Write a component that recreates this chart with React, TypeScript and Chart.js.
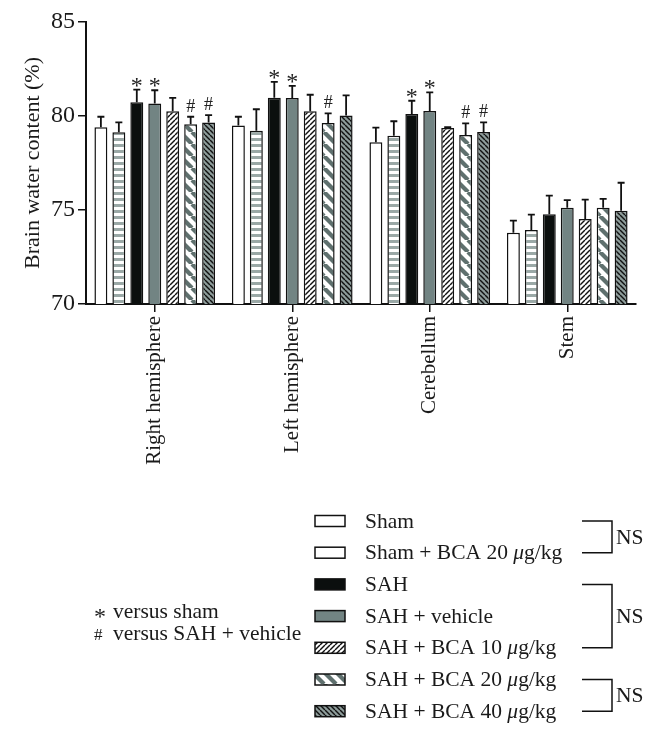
import React, { useEffect, useRef } from 'react';
import { Chart, registerables } from 'chart.js';
Chart.register(...registerables);

const categories = ['Right hemisphere', 'Left hemisphere', 'Cerebellum', 'Stem'];
const seriesNames = [
  'Sham',
  'Sham + BCA 20 μg/kg',
  'SAH',
  'SAH + vehicle',
  'SAH + BCA 10 μg/kg',
  'SAH + BCA 20 μg/kg',
  'SAH + BCA 40 μg/kg',
];

const sham = [79.4, 79.5, 78.6, 73.79];
const shamErr = [0.56, 0.46, 0.78, 0.64];
const shamBca20 = [79.13, 79.22, 78.95, 73.94];
const shamBca20Err = [0.53, 1.14, 0.77, 0.81];
const sah = [80.73, 80.97, 80.11, 74.77];
const sahErr = [0.67, 0.84, 0.7, 0.99];
const sahVehicle = [80.67, 80.96, 80.27, 75.12];
const sahVehicleErr = [0.7, 0.64, 0.99, 0.41];
const sahBca10 = [80.25, 80.25, 79.36, 74.52];
const sahBca10Err = [0.71, 0.88, 0.05, 1.03];
const sahBca20 = [79.56, 79.63, 78.99, 75.12];
const sahBca20Err = [0.4, 0.51, 0.62, 0.47];
const sahBca40 = [79.65, 80.02, 79.15, 74.96];
const sahBca40Err = [0.4, 1.08, 0.51, 1.49];

const shamMarks = ['', '', '', ''];
const shamBca20Marks = ['', '', '', ''];
const sahMarks = ['*', '*', '*', ''];
const sahVehicleMarks = ['*', '*', '*', ''];
const sahBca10Marks = ['', '', '', ''];
const sahBca20Marks = ['#', '#', '#', ''];
const sahBca40Marks = ['#', '', '#', ''];

const seriesValues = [sham, shamBca20, sah, sahVehicle, sahBca10, sahBca20, sahBca40];
const seriesErrors = [shamErr, shamBca20Err, sahErr, sahVehicleErr, sahBca10Err, sahBca20Err, sahBca40Err];
const seriesMarks = [shamMarks, shamBca20Marks, sahMarks, sahVehicleMarks, sahBca10Marks, sahBca20Marks, sahBca40Marks];

// NS groups: [first series index, last series index]
const nsGroups = [[0, 1], [2, 4], [5, 6]];
const footnotes = [['*', 'versus sham'], ['#', 'versus SAH + vehicle']];

const yTicks = [70, 75, 80, 85];

// styles
const seriesFills = ['white', 'hstripe', 'black', 'gray', 'fwdBlack', 'backGray', 'backDark'];
const legendFills = ['white', 'white', 'black', 'gray', 'fwdBlack', 'backGray', 'backDark'];

const SERIF = '"Liberation Serif", "DejaVu Serif", serif';

function makeFill(kind: string): CanvasPattern | string {
  if (kind === 'white') return '#ffffff';
  if (kind === 'black') return '#0b0f0e';
  if (kind === 'gray') return '#728483';
  const c = document.createElement('canvas');
  const ctx = c.getContext('2d')!;
  if (kind === 'hstripe') {
    c.width = 8; c.height = 6;
    ctx.fillStyle = '#ffffff'; ctx.fillRect(0, 0, 8, 6);
    ctx.fillStyle = '#9aa8a6'; ctx.fillRect(0, 0, 8, 3);
  } else if (kind === 'fwdBlack') {
    const s = 5; c.width = s; c.height = s;
    ctx.fillStyle = '#ffffff'; ctx.fillRect(0, 0, s, s);
    ctx.strokeStyle = '#111'; ctx.lineWidth = 1.4;
    for (const o of [-s, 0, s]) { ctx.beginPath(); ctx.moveTo(o, s); ctx.lineTo(o + s, 0); ctx.stroke(); }
  } else if (kind === 'backGray') {
    const s = 12; c.width = s; c.height = s;
    ctx.fillStyle = '#ffffff'; ctx.fillRect(0, 0, s, s);
    ctx.strokeStyle = '#5f706e'; ctx.lineWidth = 4.2;
    for (const o of [-s, 0, s]) { ctx.beginPath(); ctx.moveTo(o, 0); ctx.lineTo(o + s, s); ctx.stroke(); }
  } else if (kind === 'backDark') {
    const s = 5; c.width = s; c.height = s;
    ctx.fillStyle = '#8d9c9a'; ctx.fillRect(0, 0, s, s);
    ctx.strokeStyle = '#111'; ctx.lineWidth = 1.4;
    for (const o of [-s, 0, s]) { ctx.beginPath(); ctx.moveTo(o, 0); ctx.lineTo(o + s, s); ctx.stroke(); }
  }
  return ctx.createPattern(c, 'repeat')!;
}

const overlayPlugin = {
  id: 'overlay',
  afterDatasetsDraw(chart: any) {
    const ctx = chart.ctx as CanvasRenderingContext2D;
    const yScale = chart.scales.y;
    ctx.save();
    chart.data.datasets.forEach((ds: any, di: number) => {
      const meta = chart.getDatasetMeta(di);
      meta.data.forEach((el: any, i: number) => {
        const v = seriesValues[di][i];
        const e = seriesErrors[di][i];
        const top = yScale.getPixelForValue(v + e);
        const x = el.x;
        ctx.strokeStyle = '#111';
        ctx.lineWidth = 1.8;
        ctx.beginPath();
        ctx.moveTo(x, el.y);
        ctx.lineTo(x, top);
        ctx.moveTo(x - 3.5, top);
        ctx.lineTo(x + 3.5, top);
        ctx.stroke();
        const m = seriesMarks[di][i];
        if (m) {
          ctx.fillStyle = '#222';
          ctx.textAlign = 'center';
          ctx.textBaseline = 'alphabetic';
          if (m === '*') {
            ctx.font = `24px ${SERIF}`;
            ctx.fillText(m, x, top + 3);
          } else {
            ctx.font = `18px ${SERIF}`;
            ctx.fillText(m, x, top - 5);
          }
        }
      });
    });
    ctx.restore();
  },
  afterDraw(chart: any) {
    const ctx = chart.ctx as CanvasRenderingContext2D;
    ctx.save();
    const rowY0 = 521;
    const rowStep = 31.7;
    const boxX = 315, boxW = 30, boxH = 11;
    const textX = 365;
    seriesNames.forEach((name, i) => {
      const cy = rowY0 + i * rowStep;
      ctx.fillStyle = makeFill(legendFills[i]) as any;
      ctx.fillRect(boxX, cy - boxH / 2, boxW, boxH);
      ctx.strokeStyle = '#111';
      ctx.lineWidth = 1.5;
      ctx.strokeRect(boxX, cy - boxH / 2, boxW, boxH);
      ctx.fillStyle = '#1a1a1a';
      ctx.textAlign = 'left';
      ctx.textBaseline = 'alphabetic';
      const base = cy + 6.5;
      const parts = name.split('μ');
      let x = textX;
      parts.forEach((p, pi) => {
        ctx.font = `21.5px ${SERIF}`;
        ctx.fillText(p, x, base);
        x += ctx.measureText(p).width;
        if (pi < parts.length - 1) {
          ctx.font = `italic 21.5px ${SERIF}`;
          ctx.fillText('μ', x, base);
          x += ctx.measureText('μ').width;
        }
      });
    });
    // NS brackets
    const bx1 = 582, bx2 = 612;
    nsGroups.forEach(([a, b]) => {
      const y1 = rowY0 + a * rowStep;
      const y2 = rowY0 + b * rowStep;
      ctx.strokeStyle = '#111';
      ctx.lineWidth = 1.5;
      ctx.beginPath();
      ctx.moveTo(bx1, y1); ctx.lineTo(bx2, y1); ctx.lineTo(bx2, y2); ctx.lineTo(bx1, y2);
      ctx.stroke();
      ctx.fillStyle = '#1a1a1a';
      ctx.font = `21.5px ${SERIF}`;
      ctx.textAlign = 'left';
      ctx.textBaseline = 'alphabetic';
      ctx.fillText('NS', bx2 + 4, (y1 + y2) / 2 + 7);
    });
    // footnotes
    footnotes.forEach(([sym, txt], i) => {
      const base = 618 + i * 22;
      ctx.fillStyle = '#1a1a1a';
      ctx.textAlign = 'left';
      ctx.font = `${sym === '*' ? 24 : 17}px ${SERIF}`;
      ctx.fillText(sym, 94, sym === '*' ? base + 6 : base);
      ctx.font = `21.5px ${SERIF}`;
      ctx.fillText(txt, 113, base);
    });
    ctx.restore();
  },
};

export default function App() {
  const ref = useRef<HTMLCanvasElement | null>(null);
  useEffect(() => {
    if (!ref.current) return;
    const datasets = seriesNames.map((name, i) => ({
      label: name,
      data: seriesValues[i],
      backgroundColor: makeFill(seriesFills[i]) as any,
      borderColor: '#111',
      borderWidth: 1.5,
      categoryPercentage: 0.914,
      barPercentage: 0.72,
    }));
    const chart = new Chart(ref.current, {
      type: 'bar',
      data: { labels: categories, datasets },
      options: {
        animation: false,
        responsive: false,
        layout: { padding: { top: 22, right: 24, left: 0, bottom: 0 } },
        plugins: { legend: { display: false }, tooltip: { enabled: false } },
        scales: {
          x: {
            afterFit: (s: any) => { s.height = 739 - 304; },
            grid: { offset: false, drawOnChartArea: false, tickLength: 8, color: '#111', lineWidth: 1.5 },
            border: { color: '#111', width: 2 },
            ticks: {
              minRotation: 90, maxRotation: 90, autoSkip: false, padding: 4,
              color: '#1a1a1a', font: { family: SERIF, size: 21 },
            },
          },
          y: {
            min: 70, max: 85,
            afterFit: (s: any) => { s.width = 86; },
            afterBuildTicks: (s: any) => { s.ticks = yTicks.map((v) => ({ value: v })); },
            grid: { drawOnChartArea: false, tickLength: 8, color: '#111', lineWidth: 1.5 },
            border: { color: '#111', width: 2 },
            ticks: { padding: 3, color: '#1a1a1a', font: { family: SERIF, size: 24 } },
            title: {
              display: true, text: 'Brain water content (%)', color: '#1a1a1a',
              font: { family: SERIF, size: 22 }, padding: { top: 20, bottom: 0 },
            },
          },
        },
      },
      plugins: [overlayPlugin],
    });
    return () => chart.destroy();
  }, []);
  return (
    <div style={{ position: 'absolute', left: 0, top: 0, width: 660, height: 739, background: '#fff' }}>
      <canvas ref={ref} width={660} height={739} style={{ display: 'block' }} />
    </div>
  );
}
